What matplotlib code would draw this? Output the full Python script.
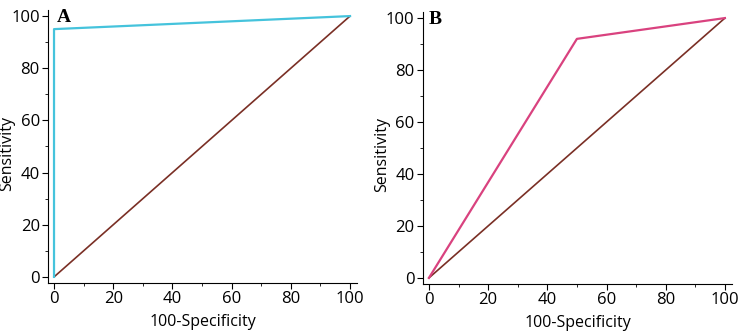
import numpy as np
import matplotlib
matplotlib.use("Agg")
import matplotlib.pyplot as plt
from matplotlib.ticker import MultipleLocator

plt.rcParams["font.family"] = ["Open Sans", "DejaVu Sans"]

# ROC points (100-specificity, sensitivity)
roc_a_x = [0, 0, 100]
roc_a_y = [0, 95, 100]
roc_b_x = [0, 50, 100]
roc_b_y = [0, 92, 100]
ref_x = [0, 100]
ref_y = [0, 100]

panels = [
    ("A", 0.029, roc_a_x, roc_a_y, "#45c3dc", [0.065, 0.158, 0.4176, 0.812]),
    ("B", 0.019, roc_b_x, roc_b_y, "#d9427f", [0.5716, 0.155, 0.4176, 0.809]),
]

fig = plt.figure(figsize=(7.4, 3.36), dpi=100)

for letter, lx, xs, ys, color, rect in panels:
    ax = fig.add_axes(rect)
    ax.plot(ref_x, ref_y, color="#7a2f25", lw=1.2)
    ax.plot(xs, ys, color=color, lw=1.6)
    ax.set_xlim(-2, 102.4)
    ax.set_ylim(-2.3, 102.3)
    ax.spines["top"].set_visible(False)
    ax.spines["right"].set_visible(False)
    ax.xaxis.set_major_locator(MultipleLocator(20))
    ax.xaxis.set_minor_locator(MultipleLocator(10))
    ax.yaxis.set_major_locator(MultipleLocator(20))
    ax.yaxis.set_minor_locator(MultipleLocator(10))
    ax.tick_params(which="major", length=4, labelsize=12, pad=2)
    ax.tick_params(which="minor", length=2.5)
    ax.set_xlabel("100-Specificity", fontsize=11.5, va="center")
    ax.xaxis.set_label_coords(0.5, -0.143)
    ax.set_ylabel("Sensitivity", fontsize=11.5, va="center")
    ax.yaxis.set_label_coords(-0.133, 0.476)
    ax.text(lx, 1.005, letter, transform=ax.transAxes, fontsize=14,
            fontweight="bold", family="Liberation Serif", va="top", ha="left")

fig.savefig("out.png", dpi=100)
